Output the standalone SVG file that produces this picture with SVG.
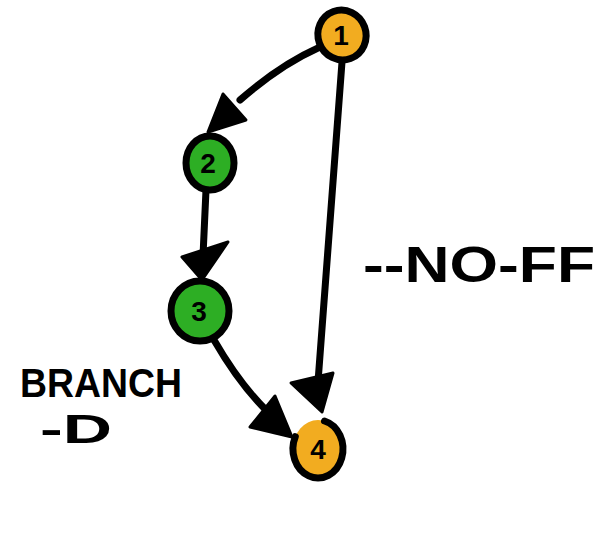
<svg xmlns="http://www.w3.org/2000/svg" width="602" height="542" viewBox="0 0 602 542">
<style>
.node{stroke:#000;stroke-width:7}
.orange{fill:#F2AC20}
.green{fill:#2DAE24}
.num{font-family:"Liberation Sans",Arial,sans-serif;font-weight:bold;font-size:28px;fill:#000;text-anchor:middle}
.edge{fill:none;stroke:#000;stroke-width:7;stroke-linecap:round}
.head{fill:#000;stroke:#000;stroke-width:3;stroke-linejoin:round}
.label{font-family:"Liberation Sans",Arial,sans-serif;font-weight:bold;fill:#000}
</style>
<rect width="602" height="542" fill="#fff"/>
<g id="connectors">
<path class="edge" d="M318 48 Q280 65 240 100"/>
<polygon class="head" points="208,132 223,94 246,120"/>
<path class="edge" d="M206 190 L203 256"/>
<polygon class="head" points="202,280 182,257 228,242"/>
<path class="edge" d="M214 340 Q240 385 268 412"/>
<polygon class="head" points="292,437 250,427 275,396"/>
<path class="edge" d="M342 62 L318 382"/>
<polygon class="head" points="322,412 291,383 333,373"/>
</g>
<g id="node1">
<ellipse class="node orange" cx="342" cy="35" rx="24" ry="25" transform="rotate(-20 342 35)"/>
<text class="num" x="341" y="45">1</text>
</g>
<g id="node2">
<ellipse class="node green" cx="210" cy="163" rx="24" ry="27"/>
<text class="num" x="208" y="173">2</text>
</g>
<g id="node3">
<ellipse class="node green" cx="200" cy="311" rx="29" ry="30"/>
<text class="num" x="199" y="321">3</text>
</g>
<g id="node4">
<ellipse class="orange" cx="318" cy="449" rx="25" ry="29"/>
<path fill="none" stroke="#000" stroke-width="7" stroke-linecap="round" d="M324.5 421 A25 29 0 1 1 295.3 436.7"/>
<text class="num" x="318" y="459">4</text>
</g>
<text class="label" x="363" y="282" font-size="50" textLength="232" lengthAdjust="spacingAndGlyphs">--NO-FF</text>
<text class="label" x="20" y="397" font-size="40" textLength="162" lengthAdjust="spacingAndGlyphs">BRANCH</text>
<text class="label" x="40" y="443" font-size="40" textLength="72" lengthAdjust="spacingAndGlyphs">-D</text>
</svg>
